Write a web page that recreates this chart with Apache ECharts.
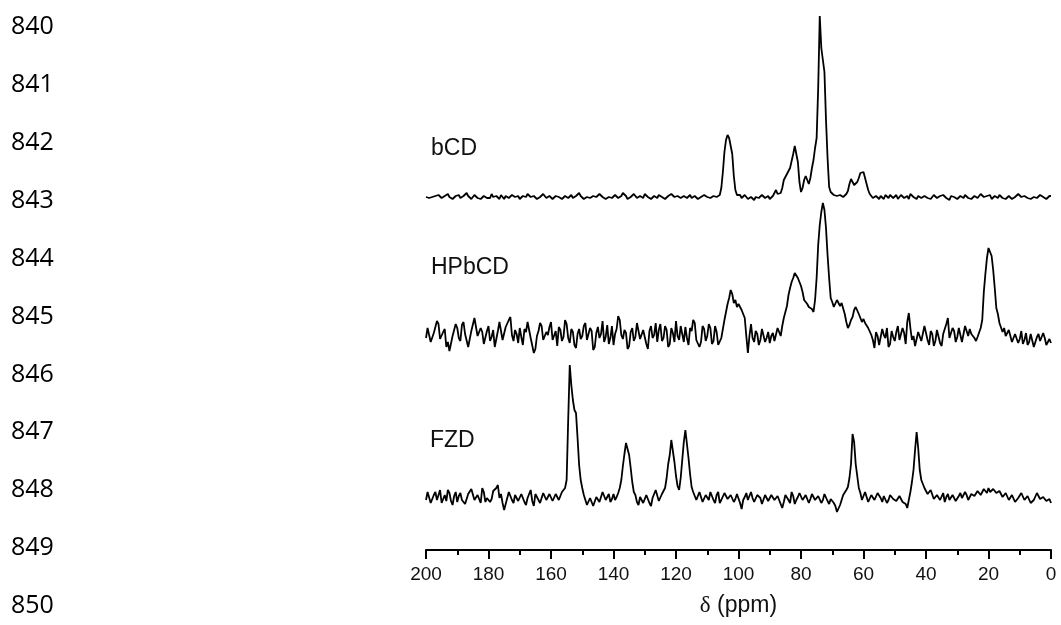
<!DOCTYPE html>
<html>
<head>
<meta charset="utf-8">
<script src="https://cdn.jsdelivr.net/npm/echarts@6/dist/echarts.min.js"></script>
<style>
html,body{margin:0;padding:0;background:#fff;}
#chart{width:1061px;height:625px;}
</style>
</head>
<body>
<div id="chart"></div>
<script>
// chemical shift grid, ppm 200 -> 0 (0.5 ppm step)
const ppm = [];
for (let i = 0; i <= 400; i++) ppm.push(200 - i * 0.5);

const xTicks = [200, 180, 160, 140, 120, 100, 80, 60, 40, 20, 0];
const seriesNames = ['bCD', 'HPbCD', 'FZD'];
const lineNumbers = ['840','841','842','843','844','845','846','847','848','849','850','851'];

// intensities (a.u., stacked with offsets as in the figure); 20 values per 10 ppm row
const bCD = [
353,351,352,354,353,351,354,352,355,353,352,350,354,352,356,353,354,351,352,354,
353,355,352,351,354,352,357,354,353,351,352,355,355,352,353,351,351,354,353,352,
354,352,356,353,352,354,353,351,355,353,351,354,354,352,353,355,356,353,352,354,
351,353,354,352,353,356,357,353,352,354,354,351,351,353,353,356,355,352,352,354,
354,351,352,354,356,353,353,351,351,354,355,352,353,355,352,350,354,353,357,354,
353,351,351,353,354,352,352,354,355,353,353,356,356,353,352,351,351,353,354,352,
353,355,355,352,352,354,357,355,354,351,351,353,353,356,355,352,352,354,354,352,
356,354,353,351,351,353,354,352,352,355,355,353,353,351,351,354,354,356,356,353,
352,354,354,352,351,354,355,352,353,355,352,350,354,352,351,353,353,355,355,353,
353,351,352,354,354,352,353,352,355,362,378,398,410,415,412,410,396,374,360,355,
353,355,352,351,355,353,351,350,353,354,350,353,354,352,352,355,355,352,353,354,
351,353,354,357,360,356,355,357,362,370,372,376,378,382,389,396,404,406,388,368,
358,362,370,374,370,366,372,382,390,402,412,462,534,502,490,478,430,392,363,358,
356,355,353,354,352,355,355,353,354,356,359,366,371,368,365,366,368,372,377,379,
378,372,366,360,356,354,352,353,354,352,351,354,353,351,355,353,352,355,354,352,
353,355,351,352,355,353,352,354,354,351,356,354,353,352,351,354,354,352,352,354,
355,352,353,351,352,355,354,352,351,354,353,355,356,352,352,350,354,352,353,355,
351,353,354,352,352,355,355,352,353,351,351,354,354,352,353,356,356,353,352,354,
353,355,351,353,354,352,352,355,355,352,353,351,352,354,354,351,351,353,353,356,
355,353,352,354,354,352,353,351,351,353,354,352,352,355,356,353,353,351,352,354,
354
];
const HPbCD = [
212,222,224,208,206,217,219,229,226,211,210,218,221,203,208,199,198,214,215,226,
222,212,209,225,228,216,214,203,205,219,220,232,231,214,212,222,218,206,207,219,
224,209,213,220,203,211,219,228,226,210,211,223,221,230,233,215,209,220,216,207,
222,213,205,221,218,228,227,212,210,197,201,214,219,227,224,210,208,218,215,223,
228,210,212,219,204,223,220,209,213,230,226,212,207,221,218,205,202,216,221,211,
214,224,227,210,209,222,219,200,203,217,223,212,216,229,208,213,225,206,212,224,
205,216,221,234,230,215,211,220,217,201,204,218,222,209,213,227,228,211,209,220,
218,206,201,219,224,212,215,227,208,220,226,209,212,224,220,203,206,222,217,208,
229,214,210,224,216,208,223,212,205,222,219,230,227,210,212,203,208,224,221,209,
214,226,222,206,209,224,218,205,203,212,221,230,238,246,252,260,256,247,250,243,
246,243,240,236,232,214,197,214,226,212,208,219,216,205,210,221,219,208,212,218,
207,214,217,209,211,222,220,214,224,232,238,244,255,262,268,272,277,278,272,268,
264,258,250,252,246,243,242,241,238,250,272,305,325,338,347,340,322,295,272,252,
248,243,244,250,251,244,247,245,236,228,222,225,230,233,240,243,242,236,234,228,
231,227,226,222,220,215,210,202,218,214,205,204,221,215,212,222,203,206,219,213,
209,218,224,210,211,222,217,206,228,237,222,210,214,204,206,218,220,209,211,224,
223,210,205,219,216,204,209,220,221,207,204,216,214,226,232,212,211,222,219,208,
213,222,220,208,210,224,226,214,221,216,218,212,209,213,214,222,230,258,276,292,
302,301,294,280,262,242,236,227,226,218,222,214,213,220,218,208,209,216,215,207,
211,219,206,210,217,205,208,216,214,203,205,213,216,209,210,217,212,205,204,211,
207
];
const FZD = [
50,58,56,47,46,55,58,50,52,60,47,51,55,49,60,57,49,45,54,58,
48,54,57,50,51,46,45,56,55,61,59,50,50,55,53,47,62,58,48,52,
54,48,51,59,58,62,65,52,56,47,40,46,52,58,57,50,47,55,55,49,
50,56,58,48,45,52,53,60,49,44,56,53,52,47,47,57,55,50,51,56,
54,49,48,56,57,50,52,58,60,62,70,130,185,165,150,140,137,112,85,70,
62,55,50,45,44,52,50,44,46,53,55,48,49,58,57,50,52,56,48,51,
56,50,53,57,62,70,84,96,107,108,95,82,68,58,55,48,45,53,52,47,
48,55,56,47,44,52,54,60,58,49,50,56,58,62,72,86,95,110,108,88,
74,64,60,72,90,108,120,118,92,76,63,58,56,50,51,58,56,48,49,55,
53,50,58,56,50,47,55,58,47,50,52,57,57,51,49,55,54,48,51,56,
56,47,41,50,53,57,50,48,58,52,48,46,55,57,52,46,47,55,54,49,
51,55,57,50,49,54,53,46,42,48,55,57,50,47,58,54,46,50,53,57,
56,50,49,55,54,47,51,56,57,50,48,54,53,47,50,56,55,49,46,51,
52,47,44,38,36,45,50,55,57,60,63,72,86,116,108,86,74,62,57,50,
52,58,56,48,49,55,55,50,51,57,57,52,48,54,54,47,50,55,56,51,
53,49,47,54,55,48,50,46,42,50,58,68,80,100,118,102,80,70,66,62,
61,56,55,60,59,51,50,55,57,50,52,57,48,53,56,50,51,55,54,49,
49,54,57,52,52,58,55,50,50,56,58,54,54,59,60,55,56,61,59,57,
62,58,57,61,63,57,55,59,58,53,52,57,56,50,50,55,54,48,47,52,
53,57,57,50,49,54,55,47,45,50,52,57,56,51,50,53,54,49,48,51,
47
];
const allSeries = [bCD, HPbCD, FZD];

const chart = echarts.init(document.getElementById('chart'), null, {renderer: 'canvas'});

const sans = 'Arial, "Liberation Sans", sans-serif';
const graphics = [];
const labelPos = [[431, 149], [431, 268], [430, 441]];
seriesNames.forEach((n, i) => {
  graphics.push({type: 'text', x: labelPos[i][0], y: labelPos[i][1],
    style: {text: n, fontFamily: sans, fontSize: 23, fill: '#111', textVerticalAlign: 'middle'}});
});
lineNumbers.forEach((t, i) => {
  graphics.push({type: 'text', x: 11, y: 27 + i * 57.9,
    style: {text: t, fontFamily: '"Open Sans", sans-serif', fontSize: 25, fill: '#000', textVerticalAlign: 'middle'}});
});

chart.setOption({
  animation: false,
  backgroundColor: '#fff',
  grid: {left: 426, right: 10, top: 0, bottom: 75},
  xAxis: {
    type: 'value', min: 0, max: 200, interval: 20, inverse: true,
    name: '{d|δ} (ppm)', nameLocation: 'middle', nameGap: 44,
    nameTextStyle: {fontFamily: sans, fontSize: 23, color: '#111',
      rich: {d: {fontFamily: '"Liberation Serif", "DejaVu Serif", serif', fontSize: 23, color: '#111'}}},
    axisLine: {show: true, onZero: false, lineStyle: {color: '#000', width: 2}},
    axisTick: {show: true, inside: false, length: 9, lineStyle: {color: '#000', width: 2}},
    minorTick: {show: true, splitNumber: 2, length: 5, lineStyle: {color: '#000', width: 2}},
    axisLabel: {margin: 15, fontFamily: sans, fontSize: 19, color: '#111',
      formatter: v => xTicks.includes(v) ? String(v) : ''},
    splitLine: {show: false}
  },
  yAxis: {type: 'value', min: 0, max: 550, show: false, splitLine: {show: false}},
  series: allSeries.map((vals, k) => ({
    name: seriesNames[k], type: 'line', showSymbol: false, symbol: 'none',
    lineStyle: {color: '#000', width: 1.8},
    data: ppm.map((p, i) => [p, vals[i]])
  })),
  graphic: graphics
});
</script>
</body>
</html>
